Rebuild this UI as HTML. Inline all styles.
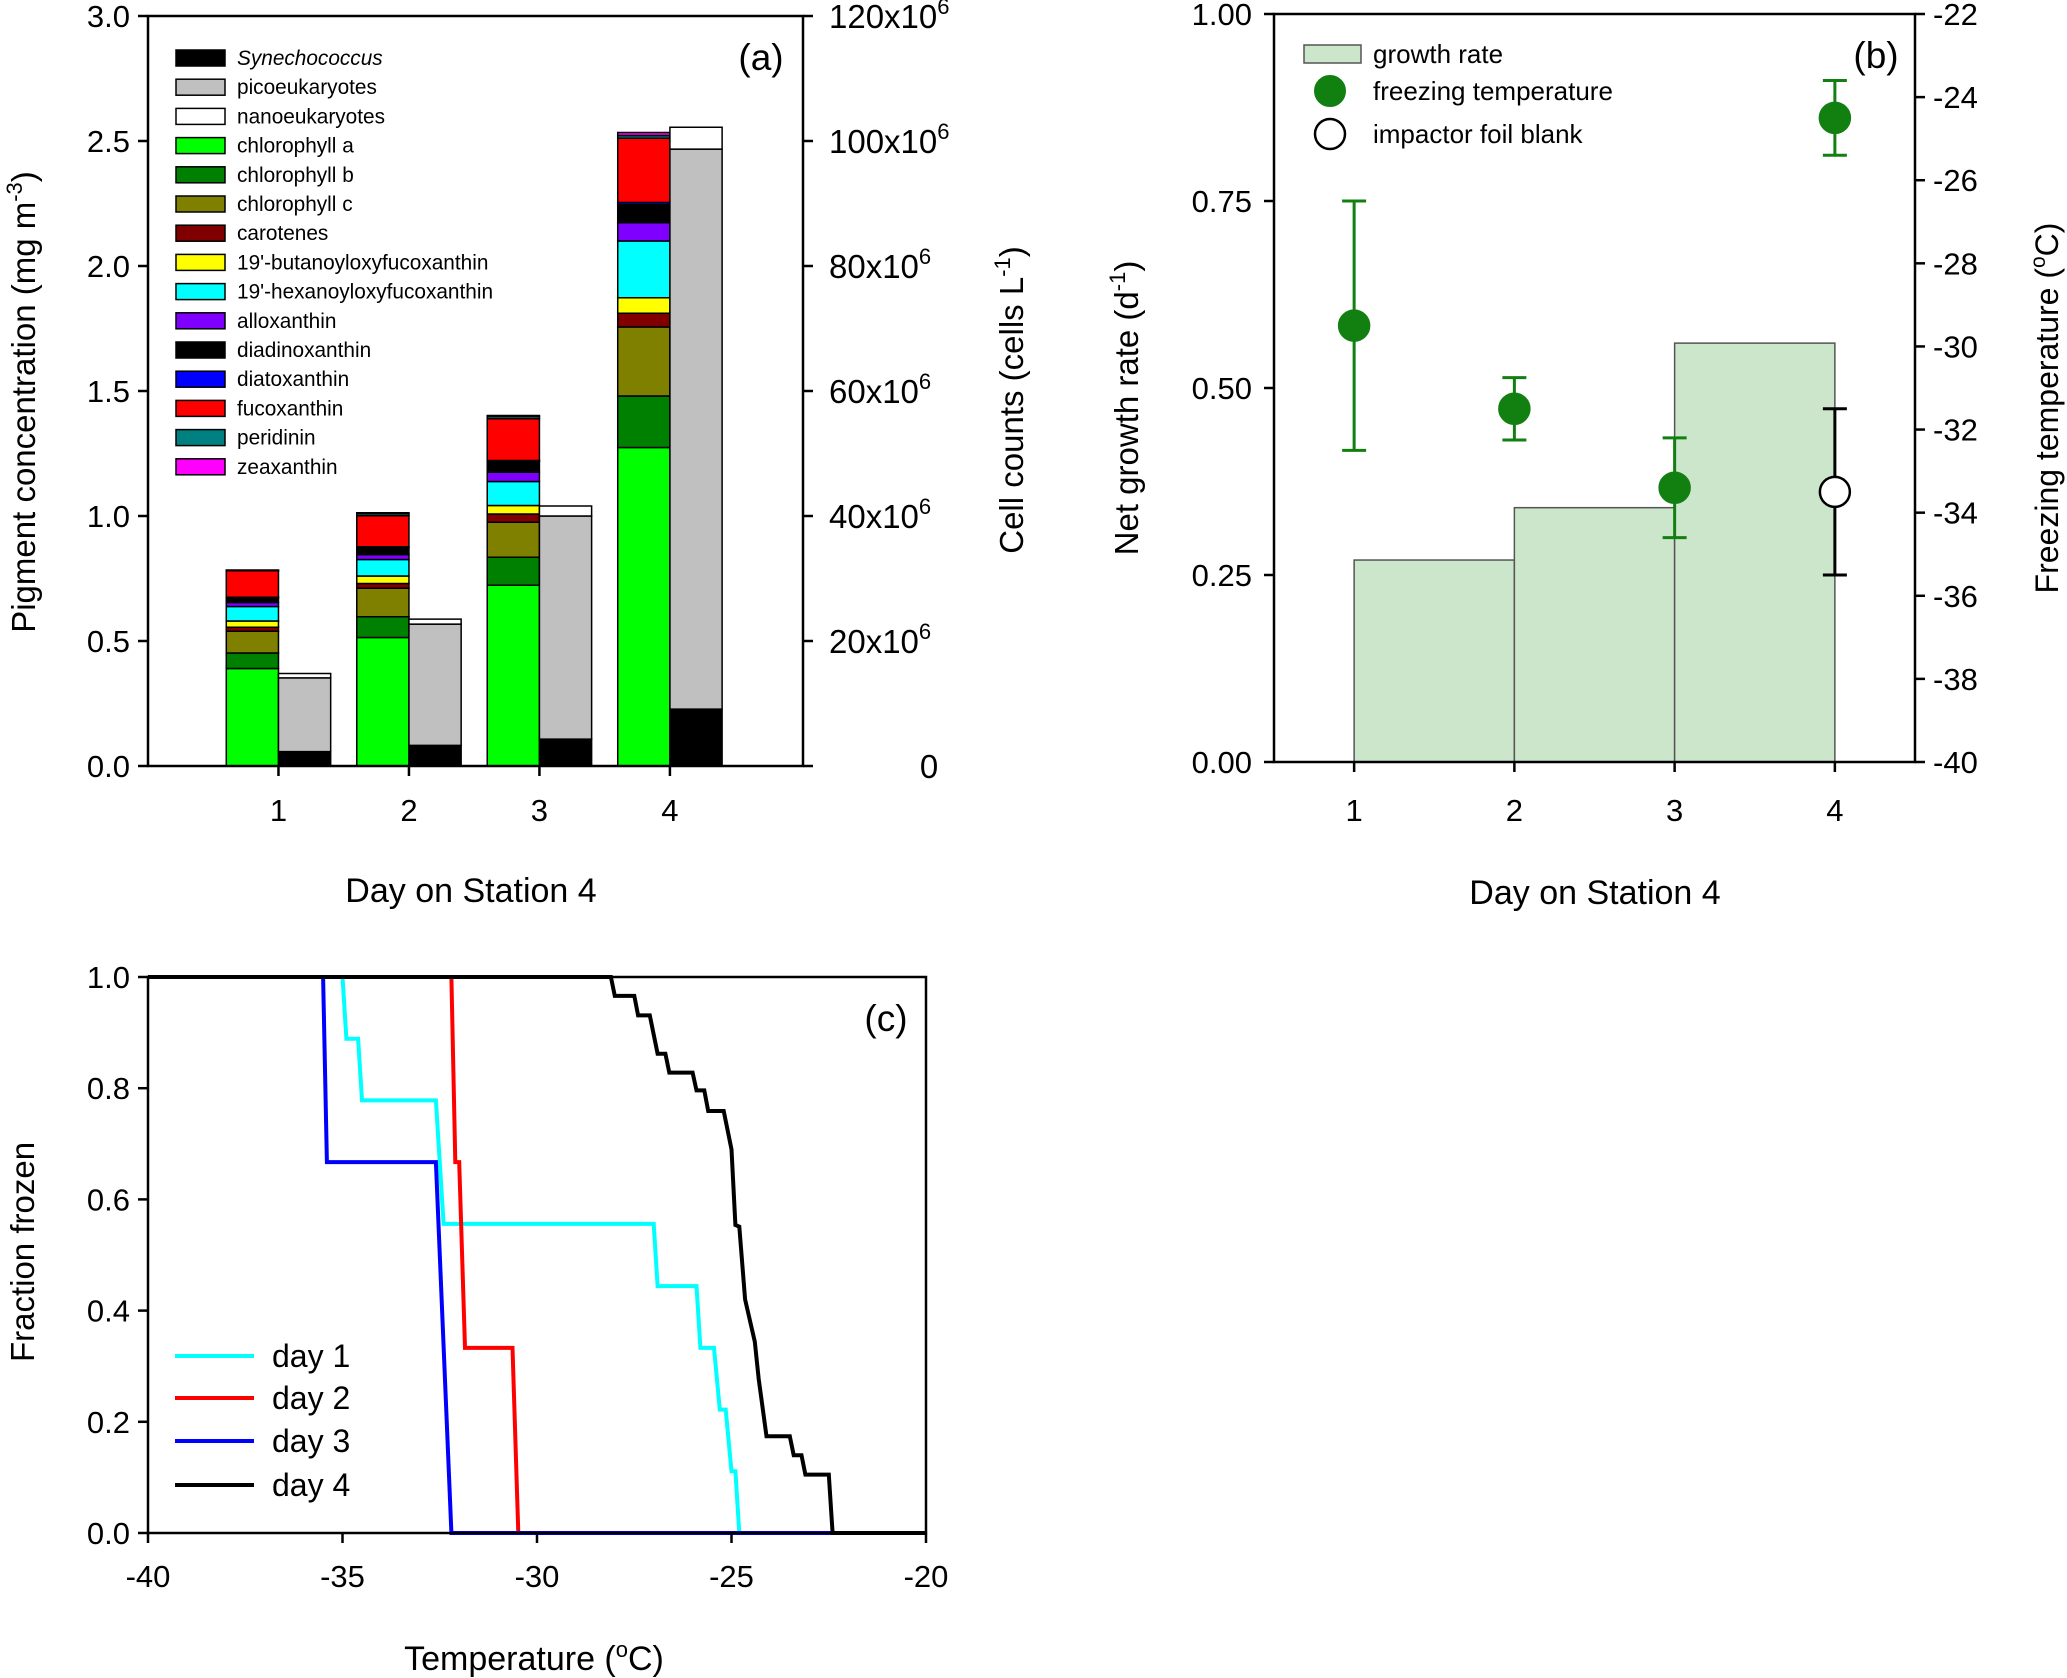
<!DOCTYPE html>
<html><head><meta charset="utf-8"><style>
html,body{margin:0;padding:0;background:#fff;}
svg{display:block;font-family:"Liberation Sans",Arial,sans-serif;}
</style></head><body>
<svg id="fig" width="2067" height="1678" viewBox="0 0 2067 1678" xmlns="http://www.w3.org/2000/svg">
<g id="pa"></g>
<g id="pb"></g>
<g id="pc"></g>
</svg>
<script>
// ---------- Panel (a) data ----------
const aDays = [1, 2, 3, 4];
const pigmentNames = ["chlorophyll a","chlorophyll b","chlorophyll c","carotenes","19'-butanoyloxyfucoxanthin","19'-hexanoyloxyfucoxanthin","alloxanthin","diadinoxanthin","diatoxanthin","fucoxanthin","peridinin","zeaxanthin"];
const pigmentColors = ["#00ff00","#008000","#808000","#800000","#ffff00","#00ffff","#8000ff","#000000","#0000ff","#ff0000","#008080","#ff00ff"];
const chlA = [0.39, 0.514, 0.723, 1.274];
const chlB = [0.062, 0.083, 0.112, 0.206];
const chlC = [0.087, 0.114, 0.140, 0.276];
const carotenes = [0.016, 0.019, 0.033, 0.055];
const butFuco = [0.025, 0.030, 0.034, 0.062];
const hexFuco = [0.058, 0.066, 0.096, 0.227];
const alloxanthin = [0.016, 0.019, 0.037, 0.073];
const diadinoxanthin = [0.018, 0.029, 0.044, 0.072];
const diatoxanthin = [0.003, 0.003, 0.003, 0.009];
const fucoxanthin = [0.106, 0.124, 0.167, 0.257];
const peridinin = [0.002, 0.008, 0.009, 0.011];
const zeaxanthin = [0.001, 0.004, 0.004, 0.012];
const synCells = [2.3, 3.3, 4.3, 9.1];      // x10^6 cells/L
const picoCells = [11.8, 19.4, 35.7, 89.6];
const nanoCells = [0.7, 0.8, 1.6, 3.5];
const aLeftTicks = ["0.0","0.5","1.0","1.5","2.0","2.5","3.0"];
const aRightTicks = [0, 20, 40, 60, 80, 100, 120];

// ---------- Panel (b) data ----------
const bDays = [1, 2, 3, 4];
const growthRate = [0.27, 0.34, 0.56];
const freezeTemp = [-29.5, -31.5, -33.4, -24.5];
const freezeErr = [3.0, 0.75, 1.2, 0.9];
const blankDay = [4];
const blankTemp = [-33.5];
const blankErr = [2.0];
const bLeftTicks = ["0.00","0.25","0.50","0.75","1.00"];
const bRightTicks = [-40,-38,-36,-34,-32,-30,-28,-26,-24,-22];

// ---------- Panel (c) data ----------
const day1T = [-40,-35.0,-34.9,-34.6,-34.5,-32.6,-32.4,-27.0,-26.9,-25.9,-25.8,-25.45,-25.3,-25.15,-25.0,-24.9,-24.8,-20];
const day1F = [1,1,0.889,0.889,0.778,0.778,0.556,0.556,0.444,0.444,0.333,0.333,0.222,0.222,0.111,0.111,0,0];
const day2T = [-40,-32.2,-32.1,-32.0,-31.85,-30.63,-30.48,-20];
const day2F = [1,1,0.667,0.667,0.333,0.333,0,0];
const day3T = [-40,-35.5,-35.4,-32.6,-32.2,-20];
const day3F = [1,1,0.667,0.667,0,0];
const day4T = [-40,-28.1,-28.0,-27.5,-27.4,-27.1,-26.9,-26.7,-26.6,-26.0,-25.9,-25.7,-25.6,-25.2,-25.0,-24.9,-24.8,-24.65,-24.4,-24.3,-24.1,-23.5,-23.4,-23.2,-23.1,-22.5,-22.4,-20];
const day4F = [1,1,0.966,0.966,0.931,0.931,0.862,0.862,0.828,0.828,0.796,0.796,0.759,0.759,0.69,0.554,0.551,0.42,0.344,0.277,0.174,0.174,0.14,0.14,0.105,0.105,0,0];
const cXTicks = [-40,-35,-30,-25,-20];
const cYTicks = ["0.0","0.2","0.4","0.6","0.8","1.0"];

const NS = "http://www.w3.org/2000/svg";
function mk(parent, tag, attrs, text) {
  const e = document.createElementNS(NS, tag);
  for (const k in attrs) e.setAttribute(k, attrs[k]);
  if (text !== undefined) e.textContent = text;
  parent.appendChild(e);
  return e;
}
function lin(d0, d1, r0, r1) { return v => r0 + (v - d0) / (d1 - d0) * (r1 - r0); }

// ================= Panel A =================
(function () {
  const g = document.getElementById('pa');
  const L = 148, R = 803, T = 16, B = 766;
  const x = lin(0, 5.02, L, R);
  const y = lin(0, 3, B, T);
  const yr = lin(0, 120, B, T);
  const bw = x(0.4) - x(0);
  const pig = [chlA, chlB, chlC, carotenes, butFuco, hexFuco, alloxanthin, diadinoxanthin, diatoxanthin, fucoxanthin, peridinin, zeaxanthin];
  aDays.forEach((d, i) => {
    let cum = 0;
    pig.forEach((arr, j) => {
      const v = arr[i];
      const r = mk(g, 'rect', {x: x(d) - bw, y: y(cum + v), width: bw, height: y(cum) - y(cum + v), fill: pigmentColors[j], stroke: '#000', 'stroke-width': 1.5});
      
      
      cum += v;
    });
    const cells = [[synCells, '#000000'], [picoCells, '#c0c0c0'], [nanoCells, '#ffffff']];
    let cc = 0;
    cells.forEach((c, j) => {
      const v = c[0][i];
      const r = mk(g, 'rect', {x: x(d), y: yr(cc + v), width: bw, height: yr(cc) - yr(cc + v), fill: c[1], stroke: '#000', 'stroke-width': 1.5});
      
      
      cc += v;
    });
  });
  const frame = mk(g, 'rect', {x: L, y: T, width: R - L, height: B - T, fill: 'none', stroke: '#000', 'stroke-width': 2.5});
  
  
  aLeftTicks.forEach(t => {
    const yy = y(parseFloat(t));
    mk(g, 'line', {x1: L - 10, x2: L, y1: yy, y2: yy, stroke: '#000', 'stroke-width': 2.5});
    const tx = mk(g, 'text', {x: L - 18, y: yy + 11, 'font-size': 31, 'text-anchor': 'end'}, t);
    
    
  });
  aRightTicks.forEach(t => {
    const yy = yr(t);
    mk(g, 'line', {x1: R, x2: R + 10, y1: yy, y2: yy, stroke: '#000', 'stroke-width': 2.5});
    const tx = mk(g, 'text', {x: t === 0 ? 929 : 829, y: yy + 12, 'font-size': 33, 'text-anchor': t === 0 ? 'middle' : 'start'});
    
    
    if (t === 0) { tx.textContent = '0'; }
    else {
      tx.textContent = t + 'x10';
      mk(tx, 'tspan', {dy: -14, 'font-size': 22}, '6');
    }
  });
  aDays.forEach(d => {
    mk(g, 'line', {x1: x(d), x2: x(d), y1: B, y2: B + 10, stroke: '#000', 'stroke-width': 2.5});
    const tx = mk(g, 'text', {x: x(d), y: 821, 'font-size': 31, 'text-anchor': 'middle'}, String(d));
    
    
  });
  const xt = mk(g, 'text', {x: 471, y: 902, 'font-size': 34, 'text-anchor': 'middle'}, 'Day on Station 4');
  
  
  const yt = mk(g, 'text', {transform: 'translate(35,402) rotate(-90)', 'font-size': 33, 'text-anchor': 'middle'}, 'Pigment concentration (mg m');
  mk(yt, 'tspan', {dy: -13, 'font-size': 22}, '-3');
  mk(yt, 'tspan', {dy: 13}, ')');
  
  
  const ry = mk(g, 'text', {transform: 'translate(1023,400) rotate(-90)', 'font-size': 33, 'text-anchor': 'middle'}, 'Cell counts (cells L');
  mk(ry, 'tspan', {dy: -13, 'font-size': 22}, '-1');
  mk(ry, 'tspan', {dy: 13}, ')');
  
  
  const pl = mk(g, 'text', {x: 761, y: 70, 'font-size': 37, 'text-anchor': 'middle'}, '(a)');
  
  
  // legend
  const legNames = ['Synechococcus', 'picoeukaryotes', 'nanoeukaryotes'].concat(pigmentNames);
  const legColors = ['#000000', '#c0c0c0', '#ffffff'].concat(pigmentColors);
  legNames.forEach((n, i) => {
    const cy = 58 + i * 29.2;
    const sw = mk(g, 'rect', {x: 176, y: cy - 8, width: 49, height: 16, fill: legColors[i], stroke: '#000', 'stroke-width': 1.5});
    
    
    const tx = mk(g, 'text', {x: 237, y: cy + 7, 'font-size': 20.8, 'font-style': i === 0 ? 'italic' : 'normal'}, n);
    
    
  });
})();

// ================= Panel B =================
(function () {
  const g = document.getElementById('pb');
  const L = 1274, R = 1915, T = 14, B = 762;
  const x = lin(0.5, 4.5, L, R);
  const y = lin(0, 1, B, T);
  const yr = lin(-40, -22, B, T);
  growthRate.forEach((v, i) => {
    const r = mk(g, 'rect', {x: x(bDays[i]), y: y(v), width: x(bDays[i + 1]) - x(bDays[i]), height: B - y(v), fill: '#cce6cc', stroke: '#555', 'stroke-width': 1.5});
    
    
  });
  function errPt(d, t, e, fill, stroke, nm) {
    const xx = x(d);
    mk(g, 'line', {x1: xx, x2: xx, y1: yr(t + e), y2: yr(t - e), stroke: stroke, 'stroke-width': 3});
    mk(g, 'line', {x1: xx - 12, x2: xx + 12, y1: yr(t + e), y2: yr(t + e), stroke: stroke, 'stroke-width': 3});
    mk(g, 'line', {x1: xx - 12, x2: xx + 12, y1: yr(t - e), y2: yr(t - e), stroke: stroke, 'stroke-width': 3});
    const c = mk(g, 'circle', {cx: xx, cy: yr(t), r: 15, fill: fill, stroke: stroke, 'stroke-width': 2.5});
    
    
  }
  freezeTemp.forEach((t, i) => errPt(bDays[i], t, freezeErr[i], '#118011', '#118011', 'freezing-point-day' + bDays[i]));
  blankTemp.forEach((t, i) => errPt(blankDay[i], t, blankErr[i], '#ffffff', '#000000', 'blank-point'));
  const frame = mk(g, 'rect', {x: L, y: T, width: R - L, height: B - T, fill: 'none', stroke: '#000', 'stroke-width': 2.5});
  
  
  bLeftTicks.forEach(t => {
    const yy = y(parseFloat(t));
    mk(g, 'line', {x1: L - 10, x2: L, y1: yy, y2: yy, stroke: '#000', 'stroke-width': 2.5});
    const tx = mk(g, 'text', {x: L - 22, y: yy + 11, 'font-size': 31, 'text-anchor': 'end'}, t);
    
    
  });
  bRightTicks.forEach(t => {
    const yy = yr(t);
    mk(g, 'line', {x1: R, x2: R + 10, y1: yy, y2: yy, stroke: '#000', 'stroke-width': 2.5});
    const tx = mk(g, 'text', {x: 1933, y: yy + 11, 'font-size': 31}, String(t));
    
    
  });
  bDays.forEach(d => {
    mk(g, 'line', {x1: x(d), x2: x(d), y1: B, y2: B + 10, stroke: '#000', 'stroke-width': 2.5});
    const tx = mk(g, 'text', {x: x(d), y: 821, 'font-size': 31, 'text-anchor': 'middle'}, String(d));
    
    
  });
  const xt = mk(g, 'text', {x: 1595, y: 904, 'font-size': 34, 'text-anchor': 'middle'}, 'Day on Station 4');
  
  
  const yt = mk(g, 'text', {transform: 'translate(1138,408) rotate(-90)', 'font-size': 33, 'text-anchor': 'middle'}, 'Net growth rate (d');
  mk(yt, 'tspan', {dy: -13, 'font-size': 22}, '-1');
  mk(yt, 'tspan', {dy: 13}, ')');
  
  
  const ry = mk(g, 'text', {transform: 'translate(2058,408) rotate(-90)', 'font-size': 32, 'text-anchor': 'middle'}, 'Freezing temperature (');
  mk(ry, 'tspan', {dy: -13, 'font-size': 21}, 'o');
  mk(ry, 'tspan', {dy: 13}, 'C)');
  
  
  const pl = mk(g, 'text', {x: 1876, y: 68, 'font-size': 37, 'text-anchor': 'middle'}, '(b)');
  
  
  // legend
  const s1 = mk(g, 'rect', {x: 1304, y: 45, width: 57, height: 18, fill: '#cce6cc', stroke: '#555', 'stroke-width': 1.5});
  
  
  const c1 = mk(g, 'circle', {cx: 1330, cy: 91, r: 15, fill: '#118011', stroke: '#118011', 'stroke-width': 2});
  
  
  const c2 = mk(g, 'circle', {cx: 1330, cy: 134, r: 15, fill: '#fff', stroke: '#000', 'stroke-width': 2.5});
  
  
  [['growth rate', 63], ['freezing temperature', 100], ['impactor foil blank', 143]].forEach(l => {
    const tx = mk(g, 'text', {x: 1373, y: l[1], 'font-size': 26}, l[0]);
    
    
  });
})();

// ================= Panel C =================
(function () {
  const g = document.getElementById('pc');
  const L = 148, R = 926, T = 977, B = 1533;
  const x = lin(-40, -20, L, R);
  const y = lin(0, 1, B, T);
  const series = [[day1T, day1F, '#00ffff', 'day 1'], [day2T, day2F, '#ff0000', 'day 2'], [day3T, day3F, '#0000ff', 'day 3'], [day4T, day4F, '#000000', 'day 4']];
  series.forEach((s, k) => {
    const pts = s[0].map((t, i) => x(t).toFixed(1) + ',' + y(s[1][i]).toFixed(1)).join(' ');
    const p = mk(g, 'polyline', {points: pts, fill: 'none', stroke: s[2], 'stroke-width': 4, 'stroke-linejoin': 'miter'});
    
    
  });
  const frame = mk(g, 'rect', {x: L, y: T, width: R - L, height: B - T, fill: 'none', stroke: '#000', 'stroke-width': 2.5});
  
  
  cYTicks.forEach(t => {
    const yy = y(parseFloat(t));
    mk(g, 'line', {x1: L - 10, x2: L, y1: yy, y2: yy, stroke: '#000', 'stroke-width': 2.5});
    const tx = mk(g, 'text', {x: L - 18, y: yy + 11, 'font-size': 31, 'text-anchor': 'end'}, t);
    
    
  });
  cXTicks.forEach(t => {
    mk(g, 'line', {x1: x(t), x2: x(t), y1: B, y2: B + 10, stroke: '#000', 'stroke-width': 2.5});
    const tx = mk(g, 'text', {x: x(t), y: 1587, 'font-size': 31, 'text-anchor': 'middle'}, String(t));
    
    
  });
  const xt = mk(g, 'text', {x: 534, y: 1670, 'font-size': 34, 'text-anchor': 'middle'}, 'Temperature (');
  mk(xt, 'tspan', {dy: -13, 'font-size': 22}, 'o');
  mk(xt, 'tspan', {dy: 13}, 'C)');
  
  
  const yt = mk(g, 'text', {transform: 'translate(34,1252) rotate(-90)', 'font-size': 33, 'text-anchor': 'middle'}, 'Fraction frozen');
  
  
  const pl = mk(g, 'text', {x: 886, y: 1031, 'font-size': 37, 'text-anchor': 'middle'}, '(c)');
  
  
  const ly = [1356, 1398, 1441, 1485];
  series.forEach((s, k) => {
    const ln = mk(g, 'line', {x1: 175, x2: 254, y1: ly[k], y2: ly[k], stroke: s[2], 'stroke-width': 4});
    
    
    const tx = mk(g, 'text', {x: 272, y: ly[k] + 11, 'font-size': 32}, s[3]);
    
    
  });
})();
</script>
</body></html>
